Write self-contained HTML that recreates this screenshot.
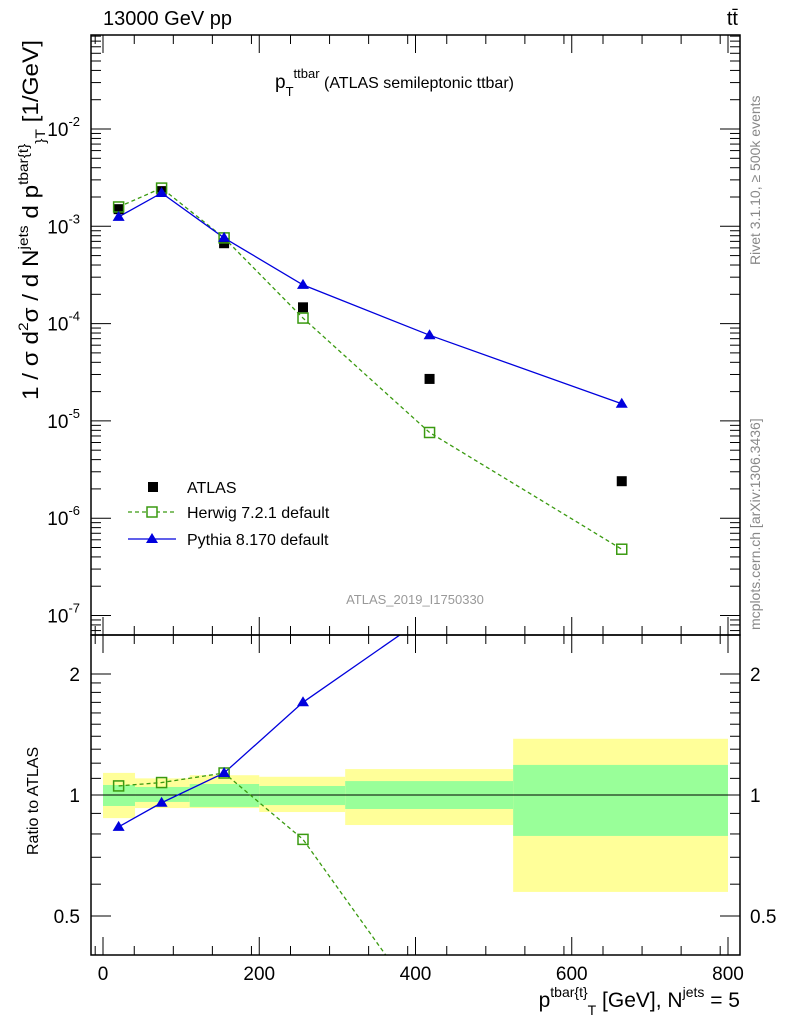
<!DOCTYPE html>
<html><head><meta charset="utf-8">
<style>
body{margin:0;background:#fff;}
svg{font-family:"Liberation Sans",sans-serif;}
</style></head>
<body>
<svg id="c" width="786" height="1024" xmlns="http://www.w3.org/2000/svg">
<defs>
<clipPath id="clipM"><rect x="91" y="35" width="649" height="600"/></clipPath>
<clipPath id="clipR"><rect x="91" y="635" width="649" height="320"/></clipPath>
</defs>
<g id="bands" clip-path="url(#clipR)"></g>
<g id="ticks"></g>
<g id="marks"></g>
<rect x="91" y="35" width="649" height="600" fill="none" stroke="#000" stroke-width="1.5"/>
<rect x="91" y="635" width="649" height="320" fill="none" stroke="#000" stroke-width="1.5"/>
<text x="103" y="25" font-size="20">13000 GeV pp</text>
<text x="738" y="25" font-size="20" text-anchor="end">tt̄</text>
<text x="275" y="88" font-size="19">p<tspan font-size="13" dy="8">T</tspan><tspan font-size="13" dy="-18">ttbar</tspan><tspan font-size="16" dy="10"> (ATLAS semileptonic ttbar)</tspan></text>
<text x="415" y="604" font-size="13" fill="#999" text-anchor="middle">ATLAS_2019_I1750330</text>
<text transform="translate(760,265) rotate(-90)" font-size="14" fill="#888">Rivet 3.1.10, ≥ 500k events</text>
<text transform="translate(760,630) rotate(-90)" font-size="14" fill="#888">mcplots.cern.ch [arXiv:1306.3436]</text>
<text transform="translate(38,400) rotate(-90)" font-size="22" textLength="360" lengthAdjust="spacingAndGlyphs">1 / σ d<tspan font-size="14" dy="-10">2</tspan><tspan dy="10">σ / d N</tspan><tspan font-size="14" dy="-10">jets</tspan><tspan dy="10"> d p</tspan><tspan font-size="14" dy="-10">tbar{t}</tspan><tspan font-size="14" dy="17">}</tspan><tspan font-size="14" dy="0">T</tspan><tspan dy="-7"> [1/GeV]</tspan></text>
<text transform="translate(38,855) rotate(-90)" font-size="16">Ratio to ATLAS</text>
<text x="740" y="1007" font-size="21" text-anchor="end">p<tspan font-size="14" dy="-10">tbar{t}</tspan><tspan font-size="14" dy="18">T</tspan><tspan dy="-8"> [GeV], N</tspan><tspan font-size="14" dy="-10">jets</tspan><tspan dy="10"> = 5</tspan></text>
<g>
<rect x="148" y="482" width="10" height="10" fill="#000"/>
<text x="187" y="493" font-size="16">ATLAS</text>
<line x1="128" y1="512" x2="176" y2="512" stroke="#3a9a10" stroke-width="1.3" stroke-dasharray="4,3"/>
<rect x="147" y="507" width="10" height="10" fill="#fff" stroke="#3a9a10" stroke-width="1.5"/>
<text x="187" y="518" font-size="16">Herwig 7.2.1 default</text>
<line x1="128" y1="539" x2="176" y2="539" stroke="#0000dd" stroke-width="1.3"/>
<polygon points="152,533 158,543 146,543" fill="#0000dd"/>
<text x="187" y="545" font-size="16">Pythia 8.170 default</text>
</g>
</svg>
<script>
const binEdges=[0,41,111,200,310,525,800];
const xCenters=[20,75,155,256,418,664];
const atlas=[1.5e-3,2.3e-3,6.7e-4,1.47e-4,2.7e-5,2.4e-6];
const herwig=[1.58e-3,2.47e-3,7.6e-4,1.14e-4,7.6e-6,4.8e-7];
const pythia=[1.25e-3,2.2e-3,7.6e-4,2.5e-4,7.6e-5,1.5e-5];
const yellowHi=[1.135,1.10,1.12,1.11,1.16,1.38];
const yellowLo=[0.876,0.928,0.928,0.907,0.842,0.574];
const greenHi=[1.059,1.047,1.065,1.053,1.083,1.188];
const greenLo=[0.939,0.961,0.934,0.944,0.923,0.791];
const xTicks=[0,200,400,600,800];
const yExps=[-2,-3,-4,-5,-6,-7];
const rTicks=[0.5,1,2];

const NS="http://www.w3.org/2000/svg";
const X=v=>103+v*625/800;
const Y=v=>129-(Math.log10(v)+2)*97.3;
const R=v=>795-Math.log10(v)*402;
function mk(parent,tag,attrs){const e=document.createElementNS(NS,tag);for(const k in attrs)e.setAttribute(k,attrs[k]);document.getElementById(parent).appendChild(e);return e;}

for(let i=0;i<6;i++){
 let e=mk('bands','rect',{x:X(binEdges[i]),y:R(yellowHi[i]),width:X(binEdges[i+1])-X(binEdges[i]),height:R(yellowLo[i])-R(yellowHi[i]),fill:'#ffff99'});
 
 
 e=mk('bands','rect',{x:X(binEdges[i]),y:R(greenHi[i]),width:X(binEdges[i+1])-X(binEdges[i]),height:R(greenLo[i])-R(greenHi[i]),fill:'#99ff99'});
 
 
}
mk('bands','line',{x1:91,x2:740,y1:R(1),y2:R(1),stroke:'#000','stroke-width':1});

xTicks.forEach(t=>{
 mk('ticks','line',{x1:X(t),x2:X(t),y1:955,y2:937,stroke:'#000'});
 mk('ticks','line',{x1:X(t),x2:X(t),y1:635,y2:653,stroke:'#000'});
 mk('ticks','line',{x1:X(t),x2:X(t),y1:35,y2:53,stroke:'#000'});
 mk('ticks','line',{x1:X(t),x2:X(t),y1:635,y2:617,stroke:'#000'});
 const tx=mk('ticks','text',{x:X(t),y:980,'font-size':19,'text-anchor':'middle'});tx.textContent=t;
 
 
});
for(let t=-10;t<=810;t+=50){if(t%200===0||t<-15)continue;
 [[955,946],[635,644],[35,44],[635,626]].forEach(p=>mk('ticks','line',{x1:X(t),x2:X(t),y1:p[0],y2:p[1],stroke:'#000'}));}
yExps.forEach(e=>{
 const y=Y(Math.pow(10,e));
 mk('ticks','line',{x1:91,x2:111,y1:y,y2:y,stroke:'#000'});
 mk('ticks','line',{x1:740,x2:720,y1:y,y2:y,stroke:'#000'});
 const tx=mk('ticks','text',{x:80,y:y+7,'font-size':19,'text-anchor':'end'});
 tx.innerHTML='10<tspan font-size="13" dy="-10">'+e+'</tspan>';
 
 
 for(let m=2;m<=9;m++){const ym=Y(m*Math.pow(10,e-1));if(ym<35||ym>635)continue;
  mk('ticks','line',{x1:91,x2:101,y1:ym,y2:ym,stroke:'#000'});
  mk('ticks','line',{x1:740,x2:730,y1:ym,y2:ym,stroke:'#000'});}
});
[2,3,4,5,6,7,8,9].forEach(m=>{const ym=Y(m*1e-2);if(ym>=35){mk('ticks','line',{x1:91,x2:101,y1:ym,y2:ym,stroke:'#000'});mk('ticks','line',{x1:740,x2:730,y1:ym,y2:ym,stroke:'#000'});}});
rTicks.forEach(t=>{
 const y=R(t);
 mk('ticks','line',{x1:91,x2:111,y1:y,y2:y,stroke:'#000'});
 mk('ticks','line',{x1:740,x2:720,y1:y,y2:y,stroke:'#000'});
 let tx=mk('ticks','text',{x:80,y:y+7,'font-size':19,'text-anchor':'end'});tx.textContent=t;
 
 
 tx=mk('ticks','text',{x:750,y:y+7,'font-size':19});tx.textContent=t;
 
 
});
[0.4,0.6,0.7,0.8,0.9,1.1,1.2,1.3,1.4,1.5,1.6,1.7,1.8,1.9].forEach(t=>{const y=R(t);if(y<635||y>955)return;
 mk('ticks','line',{x1:91,x2:101,y1:y,y2:y,stroke:'#000'});mk('ticks','line',{x1:740,x2:730,y1:y,y2:y,stroke:'#000'});});

function series(vals,fy,color,dash,clip,name){
 const pts=xCenters.map((x,i)=>X(x)+','+fy(vals[i])).join(' ');
 const l=mk('marks','polyline',{points:pts,fill:'none',stroke:color,'stroke-width':1.3,'stroke-dasharray':dash,'clip-path':clip});
 
 
}
series(herwig,Y,'#3a9a10','4,3','url(#clipM)','herwig');
series(pythia,Y,'#0000dd','none','url(#clipM)','pythia');
const hr=herwig.map((v,i)=>v/atlas[i]), pr=pythia.map((v,i)=>v/atlas[i]);
series(hr,R,'#3a9a10','4,3','url(#clipR)','herwig-ratio');
series(pr,R,'#0000dd','none','url(#clipR)','pythia-ratio');
function markers(vals,fy,kind,clipTop,clipBot,name){
 xCenters.forEach((x,i)=>{const cx=X(x),cy=fy(vals[i]);if(cy<clipTop||cy>clipBot)return;let e;
  if(kind==='sq')e=mk('marks','rect',{x:cx-5,y:cy-5,width:10,height:10,fill:'#000'});
  else if(kind==='osq')e=mk('marks','rect',{x:cx-5,y:cy-5,width:10,height:10,fill:'none',stroke:'#3a9a10','stroke-width':1.5});
  else e=mk('marks','polygon',{points:`${cx},${cy-6} ${cx+6},${cy+4} ${cx-6},${cy+4}`,fill:'#0000dd'});
  
  
 });
}
markers(atlas,Y,'sq',35,635,'atlas-point');
markers(herwig,Y,'osq',35,635,'herwig-point');
markers(pythia,Y,'tri',35,635,'pythia-point');
markers(hr,R,'osq',635,955,'herwig-ratio-point');
markers(pr,R,'tri',635,955,'pythia-ratio-point');
</script>
</body></html>
